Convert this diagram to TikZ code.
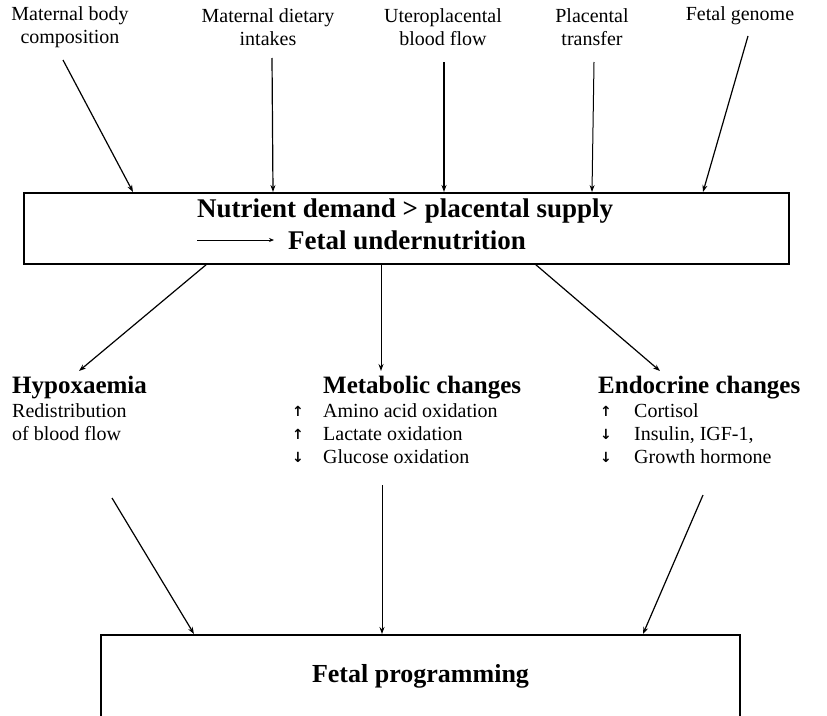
\documentclass[tikz,border=0pt]{standalone}
\usepackage{fontspec}
\setmainfont{Liberation Serif}
\newfontfamily\symfont{DejaVu Sans}
\usetikzlibrary{arrows.meta}
\begin{document}
\begin{tikzpicture}[x=1pt,y=-1pt,
  lab/.style={font=\fontsize{20}{23}\selectfont, align=center, inner sep=0pt},
  head/.style={font=\fontsize{25}{28}\selectfont\bfseries, inner sep=0pt, anchor=base west},
  boxhead/.style={font=\fontsize{27}{30}\selectfont\bfseries, inner sep=0pt, anchor=base west},
  item/.style={font=\fontsize{20}{24}\selectfont, inner sep=0pt, anchor=base west},
  sym/.style={font=\symfont\bfseries\fontsize{14}{14}\selectfont, inner sep=0pt},
  conn/.style={-{Stealth[length=7pt,width=5pt]}, line width=1.2pt},
  frame/.style={draw, line width=1.8pt, inner sep=0pt, rectangle}]
\useasboundingbox (0,0) rectangle (827,715);
\clip (0,0) rectangle (827,715);

% top labels
\node[lab] (mb) at (70,27.5) {Maternal body\\composition};
\node[lab] (md) at (268,27.5) {Maternal dietary\\intakes};
\node[lab] (up) at (443,27.5) {Uteroplacental\\blood flow};
\node[lab] (pt) at (592,27.5) {Placental\\transfer};
\node[lab] (fg) at (740,16) {Fetal genome};

% main box
\node[frame, minimum width=765pt, minimum height=71pt] (box) at (406.5,228.5) {};
\node[boxhead] (n1) at (197,217) {Nutrient demand > placental supply};
\node[boxhead] (n2) at (288,249) {Fetal undernutrition};
\coordinate (ua) at (197,240);
\coordinate (ub) at (274,240);
\draw[-{Stealth[length=5pt,width=4pt]}, line width=0.8pt] (ua) -- (ub);

% arrows into main box
\coordinate (s1) at (63,60);   \coordinate (e1) at (133,192);
\coordinate (s2) at (272,58);  \coordinate (e2) at (273,192);
\coordinate (s3) at (444,62);  \coordinate (e3) at (444,192);
\coordinate (s4) at (594,62);  \coordinate (e4) at (592,192);
\coordinate (s5) at (748,36);  \coordinate (e5) at (703,192);
\draw[conn] (s1) -- (e1);
\draw[conn] (s2) -- (e2);
\draw[conn, line width=2pt] (s3) -- (e3);
\draw[conn, line width=1pt] (s4) -- (e4);
\draw[conn] (s5) -- (e5);

% middle row
\node[head] (hyp) at (12,393) {Hypoxaemia};
\node[item] (hyp1) at (12,417) {Redistribution};
\node[item] (hyp2) at (12,440) {of blood flow};

\node[head] (met) at (323,393) {Metabolic changes};
\node[item] (met1) at (323,417) {Amino acid oxidation};
\node[item] (met2) at (323,440) {Lactate oxidation};
\node[item] (met3) at (323,463) {Glucose oxidation};
\node[sym] (ms1) at (298,411) {↑};
\node[sym] (ms2) at (298,434) {↑};
\node[sym] (ms3) at (298,457) {↓};

\node[head] (end) at (598,393) {Endocrine changes};
\node[item] (end1) at (634,417) {Cortisol};
\node[item] (end2) at (634,440) {Insulin, IGF-1,};
\node[item] (end3) at (634,463) {Growth hormone};
\node[sym] (es1) at (606,411) {↑};
\node[sym] (es2) at (606,434) {↓};
\node[sym] (es3) at (606,457) {↓};

% arrows from main box to middle row
\coordinate (b1) at (207,264); \coordinate (h1) at (79,371);
\coordinate (b2) at (381,264); \coordinate (h2) at (381,371);
\coordinate (b3) at (535,264); \coordinate (h3) at (660,371);
\draw[conn] (b1) -- (h1);
\draw[conn, line width=1pt] (b2) -- (h2);
\draw[conn] (b3) -- (h3);

% bottom box
\node[frame, minimum width=639pt, minimum height=83pt,
      font=\fontsize{26}{30}\selectfont\bfseries] (fp) at (420.5,676.5) {Fetal programming};

% arrows into bottom box
\coordinate (l1) at (112,498); \coordinate (f1) at (194,634);
\coordinate (l2) at (382,485); \coordinate (f2) at (382,634);
\coordinate (l3) at (703,495); \coordinate (f3) at (643,634);
\draw[conn] (l1) -- (f1);
\draw[conn, line width=1pt] (l2) -- (f2);
\draw[conn] (l3) -- (f3);
\end{tikzpicture}
\end{document}
